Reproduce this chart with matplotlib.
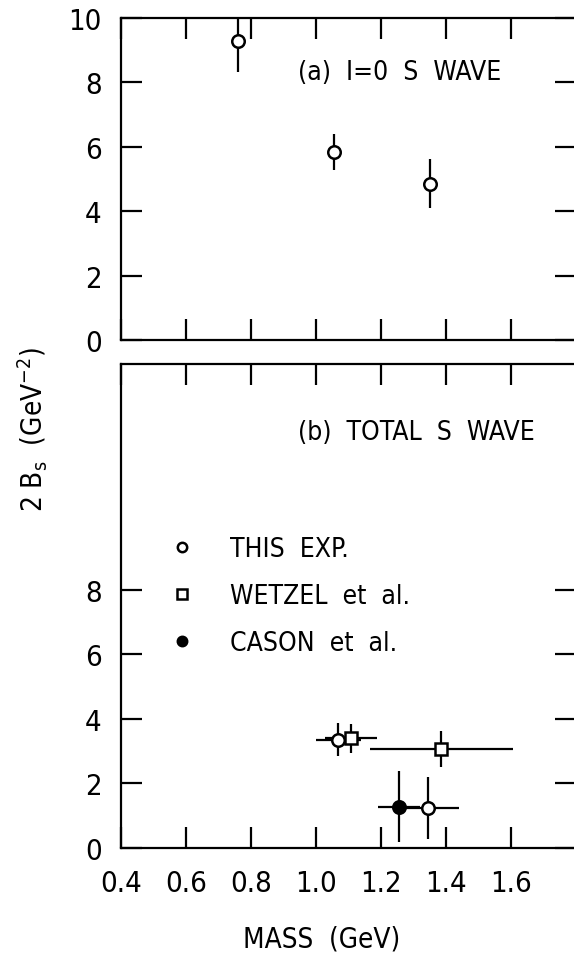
import matplotlib
matplotlib.use('Agg')
import matplotlib.pyplot as plt

plt.rcParams['font.family'] = ['Liberation Sans Narrow', 'DejaVu Sans']
plt.rcParams['font.stretch'] = 'condensed'

# (a) I=0 S wave, this experiment
mass_a = [0.76, 1.055, 1.351]
bs_a = [9.28, 5.84, 4.86]
bs_a_err = [0.95, 0.55, 0.75]

# (b) total S wave
mass_this = [1.069, 1.346]
bs_this = [3.36, 1.24]
bs_this_err = [0.5, 0.97]
mass_this_err = [0.07, 0.095]

mass_wetzel = [1.107, 1.386]
bs_wetzel = [3.40, 3.08]
bs_wetzel_err = [0.45, 0.56]
mass_wetzel_err = [0.08, 0.22]

mass_cason = [1.256]
bs_cason = [1.28]
bs_cason_err = [1.1]
mass_cason_err = [0.065]

xticks = [0.4, 0.6, 0.8, 1.0, 1.2, 1.4, 1.6]
xticklabels = ['0.4', '0.6', '0.8', '1.0', '1.2', '1.4', '1.6']

W, H = 574, 954
fig = plt.figure(figsize=(W / 100, H / 100), dpi=100)

ax1 = fig.add_axes([121 / W, 1 - 341 / H, 455 / W, 322 / H])
ax2 = fig.add_axes([121 / W, 1 - 849 / H, 455 / W, 484 / H])

lw = 1.6
for ax in (ax1, ax2):
    ax.set_xlim(0.4, 1.8)
    for s in ax.spines.values():
        s.set_linewidth(lw)
    ax.tick_params(direction='in', length=15, width=lw, top=True, right=True,
                   labelsize=21, pad=14)

# top panel
ax1.set_ylim(0, 10)
ax1.set_yticks([0, 2, 4, 6, 8, 10])
ax1.set_xticks(xticks)
ax1.tick_params(labelbottom=False)
ax1.errorbar(mass_a, bs_a, yerr=bs_a_err, fmt='o', color='black', mfc='white',
             mec='black', ms=9, mew=1.8, elinewidth=lw, capsize=0, clip_on=True)
ax1.text(0.39, 0.832, '(a)  I=0  S  WAVE', transform=ax1.transAxes, fontsize=19,
         va='center', ha='left')

# bottom panel
ax2.set_ylim(0, 15)
ax2.set_yticks([0, 2, 4, 6, 8])
ax2.set_xticks(xticks)
ax2.set_xticklabels(xticklabels)
ax2.tick_params(axis='x', pad=15)

ax2.errorbar(mass_wetzel, bs_wetzel, yerr=bs_wetzel_err, xerr=mass_wetzel_err,
             fmt='none', ecolor='black', elinewidth=lw, capsize=0)
ax2.errorbar(mass_this, bs_this, yerr=bs_this_err, xerr=mass_this_err,
             fmt='none', ecolor='black', elinewidth=lw, capsize=0)
ax2.errorbar(mass_cason, bs_cason, yerr=bs_cason_err, xerr=mass_cason_err,
             fmt='none', ecolor='black', elinewidth=lw, capsize=0)
ax2.plot(mass_wetzel, bs_wetzel, 's', color='black', mfc='white', ms=9, mew=1.8,
         linestyle='none', label='WETZEL  et  al.', zorder=4)
ax2.plot(mass_this, bs_this, 'o', color='black', mfc='white', ms=9, mew=1.8,
         linestyle='none', label='THIS  EXP.', zorder=4)
ax2.plot(mass_cason, bs_cason, 'o', color='black', mfc='black', ms=9, mew=1.8,
         linestyle='none', label='CASON  et  al.', zorder=4)

h, l = ax2.get_legend_handles_labels()
order = [1, 0, 2]
ax2.legend([h[i] for i in order], [l[i] for i in order], loc='upper left',
           bbox_to_anchor=(169 / W, 1 - 537 / H), bbox_transform=fig.transFigure,
           frameon=False, fontsize=19, handlelength=1.0, handletextpad=1.3,
           labelspacing=0.8, markerscale=0.75, borderpad=0, borderaxespad=0)

ax2.text(0.39, 0.86, '(b)  TOTAL  S  WAVE', transform=ax2.transAxes, fontsize=19,
         va='center', ha='left')

fig.text(322 / W, 1 - 940 / H, 'MASS  (GeV)', ha='center', va='center', fontsize=20)
fig.text(33 / W, 1 - 430 / H, r'2 $\mathregular{B_s}$  (GeV$\mathregular{^{-2}}$)',
         ha='center', va='center', rotation=90, fontsize=20)

fig.savefig('out.png', dpi=100)
